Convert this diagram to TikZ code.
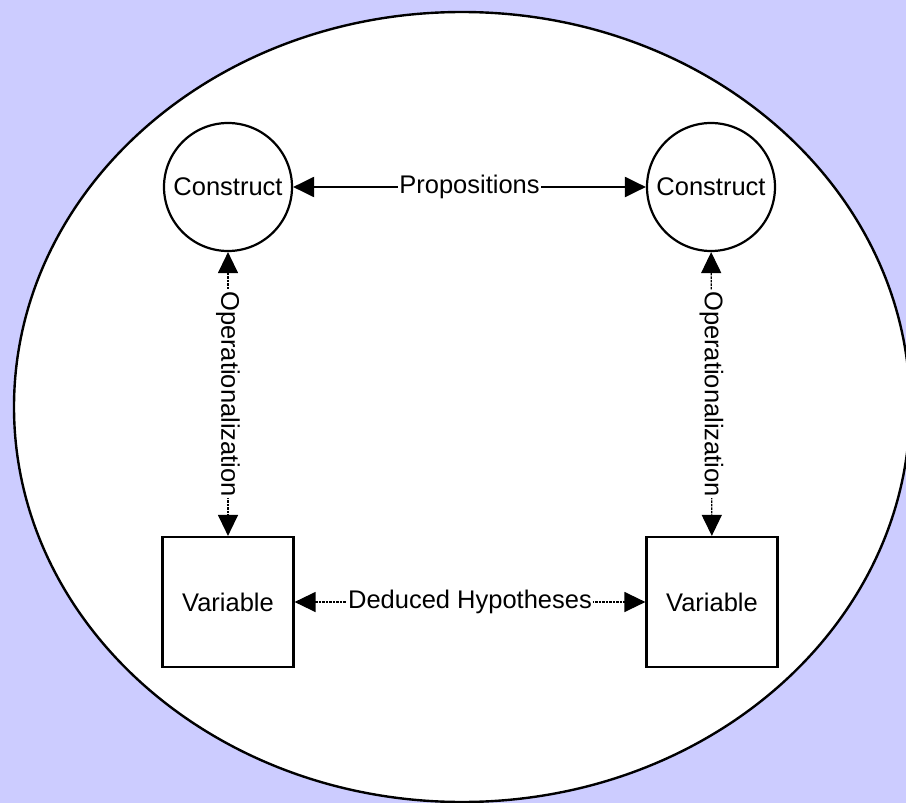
\documentclass[tikz,border=0pt]{standalone}
\usepackage{fontspec}
\setmainfont{Liberation Sans}
\usetikzlibrary{arrows.meta}
\definecolor{bgcol}{HTML}{CCCCFF}
\begin{document}
\begin{tikzpicture}[x=1pt,y=-1pt,
  every node/.style={font=\fontsize{25.5}{30}\selectfont},
  concept/.style={circle,draw,line width=2.2pt,minimum size=128pt,inner sep=0pt,fill=white},
  varbox/.style={rectangle,draw,line width=2.2pt,minimum width=131pt,minimum height=130pt,inner sep=0pt,fill=white},
  >={Triangle[length=21pt,width=20pt]},
  solidlink/.style={line width=2.2pt,<->},
  dashlink/.style={line width=1.3pt,dash pattern=on 2.5pt off 1pt,<->},
  lbl/.style={fill=white,inner sep=1pt}]
\useasboundingbox (0,0) rectangle (906,803);
\fill[bgcol] (0,0) rectangle (906,803);
\draw[line width=2.4pt,fill=white] (462,407) ellipse [x radius=448, y radius=395];
\node[concept] (c1) at (228,187) {Construct};
\node[concept] (c2) at (711,187) {Construct};
\node[varbox] (v1) at (228,602) {Variable};
\node[varbox] (v2) at (712,602) {Variable};
\draw[solidlink] (c1) -- node[lbl] {Propositions} (c2);
\draw[dashlink] (v1) -- node[lbl] {Deduced Hypotheses} (v2);
\draw[dashlink] (c1) -- node[lbl,rotate=-90] {Operationalization} (v1);
\draw[dashlink] (c2) -- node[lbl,rotate=-90] {Operationalization} (v2);
\end{tikzpicture}
\end{document}
